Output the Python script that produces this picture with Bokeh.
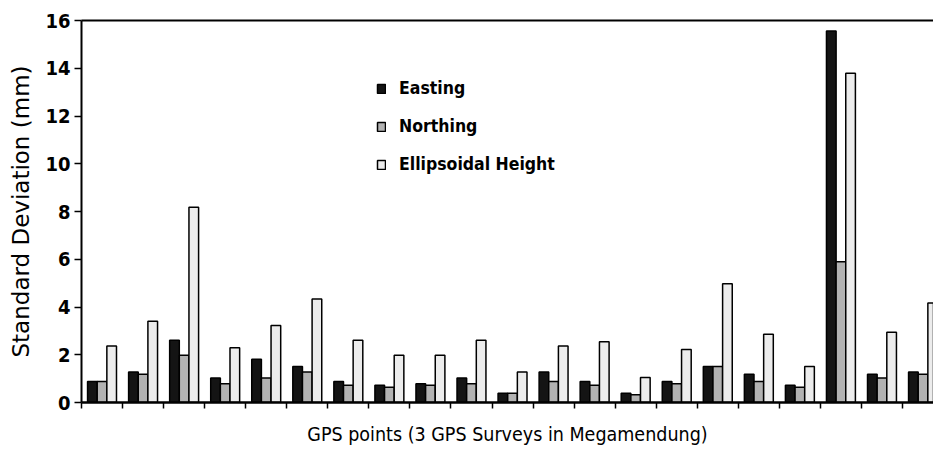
from bokeh.plotting import figure
from bokeh.models import ColumnDataSource, Range1d, LinearAxis, Legend, LegendItem, FixedTicker
from bokeh.embed import file_html
from bokeh.resources import INLINE

# Data
points = list(range(1, 22))
easting = [0.88, 1.28, 2.61, 1.03, 1.81, 1.51, 0.88, 0.72, 0.79, 1.03, 0.39,
           1.28, 0.88, 0.39, 0.88, 1.51, 1.18, 0.72, 15.56, 1.18, 1.28]
northing = [0.88, 1.18, 1.98, 0.79, 1.03, 1.28, 0.72, 0.64, 0.72, 0.79, 0.39,
            0.88, 0.72, 0.32, 0.79, 1.51, 0.88, 0.64, 5.90, 1.03, 1.18]
height = [2.37, 3.40, 8.18, 2.29, 3.23, 4.34, 2.61, 1.98, 1.98, 2.61, 1.28,
          2.37, 2.54, 1.05, 2.22, 4.97, 2.86, 1.51, 13.79, 2.94, 4.17]
series_names = ["Easting", "Northing", "Ellipsoidal Height"]
series_colors = ["#141414", "#b2b2b2", "#ececec"]
y_ticks = [0, 2, 4, 6, 8, 10, 12, 14, 16]
x_boundaries = list(range(0, 22))

FONT = "DejaVu Sans Condensed"

centers = [i - 0.5 for i in points]
bw = 0.235
src = ColumnDataSource(dict(
    xe=[c - bw for c in centers], xn=centers, xh=[c + bw for c in centers],
    e=easting, n=northing, h=height))

p = figure(width=933, height=449, output_backend="svg", toolbar_location=None,
           x_range=Range1d(0, 20.755), y_range=Range1d(0, 16),
           min_border_left=81, min_border_right=0, min_border_top=20, min_border_bottom=47)
p.outline_line_color = None
p.grid.grid_line_color = None
p.background_fill_color = "white"

r1 = p.vbar(x="xe", top="e", width=bw, source=src, fill_color=series_colors[0], line_color="black", line_width=1.5)
r2 = p.vbar(x="xn", top="n", width=bw, source=src, fill_color=series_colors[1], line_color="black", line_width=1.5)
r3 = p.vbar(x="xh", top="h", width=bw, source=src, fill_color=series_colors[2], line_color="black", line_width=1.5)

# x axis: only unlabeled (minor) ticks at group boundaries
xa = p.xaxis[0]
xa.ticker = FixedTicker(ticks=[], minor_ticks=x_boundaries)
xa.axis_line_width = 2.5
xa.axis_line_color = "black"
xa.minor_tick_out = 6
xa.minor_tick_in = 0
xa.minor_tick_line_width = 1.5
xa.minor_tick_line_color = "black"
xa.axis_label = "GPS points (3 GPS Surveys in Megamendung)"
xa.axis_label_text_font = FONT
xa.axis_label_text_font_style = "normal"
xa.axis_label_text_font_size = "19.5px"
xa.axis_label_text_color = "black"
xa.axis_label_standoff = 14

# y axis
ya = p.yaxis[0]
ya.ticker = FixedTicker(ticks=y_ticks)
ya.major_label_text_font = FONT
ya.major_label_text_font_style = "bold"
ya.major_label_text_font_size = "20px"
ya.major_label_text_color = "black"
ya.major_label_standoff = 4
ya.axis_line_width = 2
ya.axis_line_color = "black"
ya.major_tick_out = 7
ya.major_tick_in = 0
ya.major_tick_line_width = 1.5
ya.major_tick_line_color = "black"
ya.minor_tick_line_color = None
ya.axis_label = "Standard Deviation (mm)"
ya.axis_label_text_font = "DejaVu Sans"
ya.axis_label_text_font_style = "normal"
ya.axis_label_text_font_size = "23px"
ya.axis_label_text_color = "black"
ya.axis_label_standoff = 8

# top border line
top = LinearAxis(ticker=FixedTicker(ticks=[]), major_tick_line_color=None,
                 minor_tick_line_color=None, axis_line_width=2, axis_line_color="black")
p.add_layout(top, "above")

legend = Legend(items=[LegendItem(label=series_names[0], renderers=[r1]),
                       LegendItem(label=series_names[1], renderers=[r2]),
                       LegendItem(label=series_names[2], renderers=[r3])],
                location=(295, 228), border_line_color=None, background_fill_alpha=0,
                glyph_width=10, glyph_height=11, label_standoff=13, spacing=18,
                label_text_font=FONT, label_text_font_style="bold", label_text_font_size="17.5px",
                label_text_color="black", padding=0, margin=0)
p.add_layout(legend)

open("out.html", "w").write(file_html(p, INLINE))
